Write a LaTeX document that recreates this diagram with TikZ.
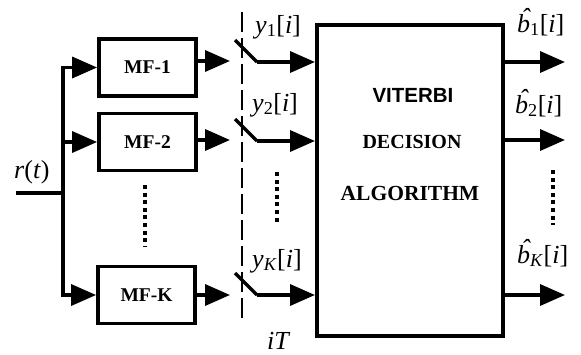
\documentclass[tikz,border=0pt]{standalone}
\usepackage{fontspec}
\setmainfont{Liberation Serif}
\newfontfamily\arialf{Liberation Sans}
\usetikzlibrary{arrows.meta}
\newcommand\bhatx{\textit{b\hspace{-0.5em}\makebox[0.5em]{\hspace{0.14em}\raisebox{0.2em}{\char"02C6}}}}
\begin{document}
\begin{tikzpicture}[x=1pt,y=-1pt,
  box/.style={draw,line width=3.8pt,minimum width=97pt,minimum height=57pt,inner sep=0pt,font=\bfseries\fontsize{19.5}{22}\selectfont},
  ln/.style={line width=3.5pt},
  arr/.style={line width=3.5pt,-{Triangle[length=25pt,width=21pt]}},
  lab/.style={font=\fontsize{26}{30}\selectfont,inner sep=0pt,anchor=base west},
  dotl/.style={line width=4pt,dash pattern=on 4pt off 3.6pt},
  dashl/.style={line width=2.5pt,dash pattern=on 20pt off 6pt},
  btxt/.style={inner sep=0pt,font=\bfseries\fontsize{20}{24}\selectfont}]
\useasboundingbox (0,0) rectangle (581,354);
% boxes
\node[box] (mf1) at (147.5,67.5) {MF-1};
\node[box] (mf2) at (147.5,142) {MF-2};
\node[box] (mfk) at (146.5,295) {MF-K};
\node[draw,line width=4pt,minimum width=186pt,minimum height=311pt,inner sep=0pt] (vit) at (410,180.5) {};
\node[inner sep=0pt,font=\arialf\bfseries\fontsize{20.5}{22}\selectfont] (t1) at (413,95) {VITERBI};
\node[btxt] (t2) at (412,142) {DECISION};
\node[btxt,font=\bfseries\fontsize{21.5}{24}\selectfont] (t3) at (410,193) {ALGORITHM};
% input trunk
\coordinate (rin) at (16,193);
\coordinate (rj) at (63,193);
\coordinate (tb) at (63,142);
\draw[ln] (rin) -- (rj);
\draw[arr] (rj) |- (mf1.west);
\draw[arr] (rj) |- (mfk.west);
\draw[arr] (tb) -- (mf2.west);
% MF outputs
\coordinate (s1) at (230,61);
\coordinate (s2) at (230,140);
\coordinate (sk) at (230,295);
\draw[arr] (mf1.east |- s1) -- (s1);
\draw[arr] (mf2.east |- s2) -- (s2);
\draw[arr] (mfk.east |- sk) -- (sk);
% sampler
\coordinate (da) at (242,12);
\coordinate (db) at (242,322);
\draw[dashl] (da) -- (db);
\coordinate (w1a) at (235,40);  \coordinate (w1b) at (257,62);
\coordinate (w2a) at (235,119); \coordinate (w2b) at (257,141);
\coordinate (wka) at (235,273); \coordinate (wkb) at (257,295);
\draw[ln] (w1a) -- (w1b);
\draw[ln] (w2a) -- (w2b);
\draw[ln] (wka) -- (wkb);
\draw[arr] (w1b) -- (vit.west |- w1b);
\draw[arr] (w2b) -- (vit.west |- w2b);
\draw[arr] (wkb) -- (vit.west |- wkb);
% outputs
\coordinate (o1) at (565,62);
\coordinate (o2) at (565,140);
\coordinate (ok) at (565,295);
\draw[arr] (vit.east |- o1) -- (o1);
\draw[arr] (vit.east |- o2) -- (o2);
\draw[arr] (vit.east |- ok) -- (ok);
% dots
\coordinate (d1a) at (145,185); \coordinate (d1b) at (145,246);
\coordinate (d2a) at (277,172); \coordinate (d2b) at (277,223);
\coordinate (d3a) at (553,170); \coordinate (d3b) at (553,225);
\draw[dotl] (d1a) -- (d1b);
\draw[dotl] (d2a) -- (d2b);
\draw[dotl] (d3a) -- (d3b);
% labels
\node[lab] (lr) at (14,178) {\textit{r}(\textit{t})};
\node[lab] (ly1) at (255,33) {\textit{y}\textsubscript{1}[\textit{i}]};
\node[lab] (ly2) at (252,111) {\textit{y}\textsubscript{2}[\textit{i}]};
\node[lab] (lyk) at (252,267) {\textit{y}\textsubscript{\textit{K}}[\textit{i}]};
\node[lab] (lit) at (267,349) {\textit{iT}};
\node[lab] (lb1) at (517,32) {\bhatx\textsubscript{1}[\textit{i}]};
\node[lab] (lb2) at (515,113) {\bhatx\textsubscript{2}[\textit{i}]};
\node[lab] (lbk) at (517,263) {\bhatx\textsubscript{\textit{K}}[\textit{i}]};
\end{tikzpicture}
\end{document}
